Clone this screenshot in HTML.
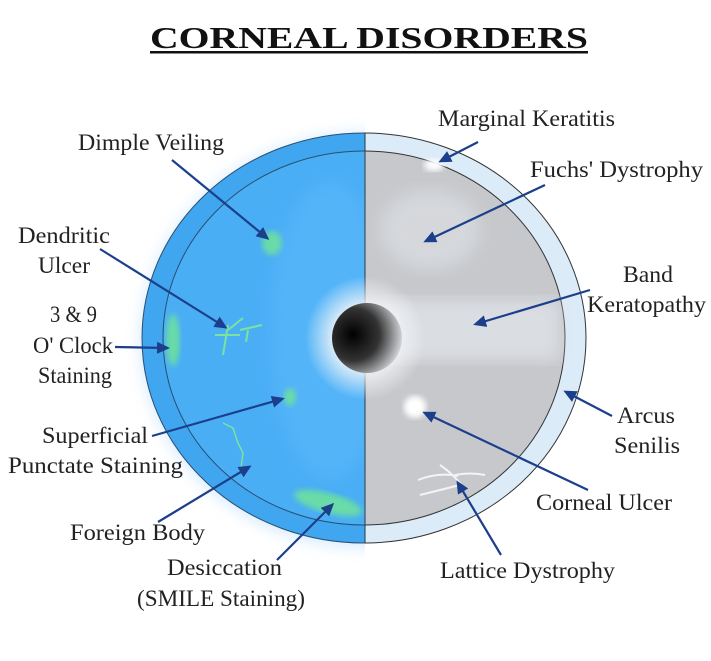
<!DOCTYPE html>
<html><head><meta charset="utf-8"><style>
html,body{margin:0;padding:0;background:#fff;}
svg{display:block;}
text{font-family:"Liberation Serif",serif;fill:#222;font-size:23px;}
</style></head><body>
<svg width="711" height="661" viewBox="0 0 711 661" xmlns="http://www.w3.org/2000/svg">
<defs>
<marker id="a" markerWidth="13" markerHeight="12" refX="10" refY="6" orient="auto" markerUnits="userSpaceOnUse">
<path d="M0,0 L13,6 L0,12 Z" fill="#1c3f8c"/></marker>
<radialGradient id="pup" cx="0.3" cy="0.45" r="0.75">
<stop offset="0" stop-color="#000"/><stop offset="0.5" stop-color="#333"/><stop offset="1" stop-color="#e8eaee"/></radialGradient>
<radialGradient id="cloud" cx="0.5" cy="0.5" r="0.5">
<stop offset="0.5" stop-color="#f4f6f8"/><stop offset="1" stop-color="#f4f6f8" stop-opacity="0"/></radialGradient>
<filter id="blur"><feGaussianBlur stdDeviation="3"/></filter>
<filter id="blur2"><feGaussianBlur stdDeviation="8"/></filter>
<clipPath id="L"><rect x="0" y="0" width="365" height="661"/></clipPath>
<clipPath id="R"><rect x="365" y="0" width="346" height="661"/></clipPath>
</defs>

<text x="150" y="48" font-weight="bold" textLength="438" lengthAdjust="spacingAndGlyphs" style="font-size:31px;fill:#111">CORNEAL DISORDERS</text>
<rect x="150" y="51" width="438" height="2.5" fill="#111"/>

<ellipse cx="364" cy="340" rx="222" ry="206" fill="#9fd0ff" filter="url(#blur2)" opacity="0.5" clip-path="url(#L)"/>
<g clip-path="url(#L)">
<ellipse cx="364" cy="338" rx="222" ry="205" fill="#3fa6ef" stroke="#2a4f70" stroke-width="1"/>
<ellipse cx="364" cy="338" rx="201" ry="187" fill="#4aaef5" stroke="#2a4f70" stroke-width="1"/>
<ellipse cx="330" cy="330" rx="60" ry="150" fill="#5ab8fa" filter="url(#blur2)" opacity="0.6"/>
</g>
<g clip-path="url(#R)">
<ellipse cx="364" cy="338" rx="222" ry="205" fill="#dcebf8" stroke="#333" stroke-width="1"/>
<ellipse cx="364" cy="338" rx="201" ry="187" fill="#c6c8cc" stroke="#333" stroke-width="1"/>
<rect x="380" y="300" width="180" height="60" fill="#e0e3e8" filter="url(#blur2)" opacity="0.8"/>
<ellipse cx="430" cy="230" rx="50" ry="40" fill="#dfe2e6" filter="url(#blur2)" opacity="0.6"/>
<ellipse cx="434" cy="165" rx="10" ry="6" fill="#fff" filter="url(#blur)"/>
<ellipse cx="415" cy="407" rx="11" ry="11" fill="#fff" filter="url(#blur)"/>
<path d="M418,480 q20,-8 40,-4 M440,465 q15,10 25,25 M455,475 q15,-3 30,0 M420,495 q20,-5 40,-10" stroke="#f2f4f6" stroke-width="2" fill="none"/>
</g>
<line x1="365" y1="133" x2="365" y2="543" stroke="#2a3a4a" stroke-width="1"/>
<ellipse cx="365" cy="338" rx="60" ry="62" fill="url(#cloud)" opacity="0.9"/>
<circle cx="367" cy="338" r="35" fill="url(#pup)"/>

<g fill="#6fe39a" opacity="0.85">
<ellipse cx="272" cy="243" rx="10" ry="12" filter="url(#blur)"/>
<ellipse cx="173" cy="340" rx="7" ry="26" filter="url(#blur)"/>
<ellipse cx="328" cy="503" rx="35" ry="10" transform="rotate(15 328 503)" filter="url(#blur)"/>
<ellipse cx="290" cy="397" rx="6" ry="9" filter="url(#blur)"/>
</g>
<path d="M215,335 l25,0 M228,325 l-5,30 M228,330 l15,-12 M240,330 l22,-5 M248,330 l-2,12" stroke="#7be39e" stroke-width="2" fill="none"/>
<path d="M223,423 l10,5 l5,15 l5,10 l-2,15 l5,6" stroke="#7be39e" stroke-width="1.5" fill="none"/>

<g stroke="#1c3f8c" stroke-width="2.2" fill="none" marker-end="url(#a)">
<line x1="478" y1="142" x2="441" y2="161"/>
<line x1="172" y1="160" x2="267" y2="238"/>
<line x1="100" y1="249" x2="225" y2="327"/>
<line x1="545" y1="185" x2="426" y2="241"/>
<line x1="590" y1="290" x2="476" y2="324"/>
<line x1="115" y1="347" x2="167" y2="348"/>
<line x1="612" y1="416" x2="566" y2="392"/>
<line x1="152" y1="436" x2="282" y2="399"/>
<line x1="588" y1="490" x2="425" y2="413"/>
<line x1="158" y1="522" x2="249" y2="467"/>
<line x1="277" y1="560" x2="332" y2="505"/>
<line x1="501" y1="555" x2="458" y2="483"/>
</g>

<g lengthAdjust="spacingAndGlyphs">
<text x="438" y="126" textLength="177" lengthAdjust="spacingAndGlyphs">Marginal Keratitis</text>
<text x="78" y="150" textLength="146" lengthAdjust="spacingAndGlyphs">Dimple Veiling</text>
<text x="18" y="243" textLength="92" lengthAdjust="spacingAndGlyphs">Dendritic</text>
<text x="38" y="273" textLength="52" lengthAdjust="spacingAndGlyphs">Ulcer</text>
<text x="530" y="177" textLength="173" lengthAdjust="spacingAndGlyphs">Fuchs' Dystrophy</text>
<text x="623" y="282" textLength="50" lengthAdjust="spacingAndGlyphs">Band</text>
<text x="587" y="312" textLength="119" lengthAdjust="spacingAndGlyphs">Keratopathy</text>
<text x="50" y="322" textLength="47" lengthAdjust="spacingAndGlyphs">3 &amp; 9</text>
<text x="33" y="353" textLength="80" lengthAdjust="spacingAndGlyphs">O' Clock</text>
<text x="38" y="383" textLength="74" lengthAdjust="spacingAndGlyphs">Staining</text>
<text x="617" y="423" textLength="58" lengthAdjust="spacingAndGlyphs">Arcus</text>
<text x="614" y="453" textLength="66" lengthAdjust="spacingAndGlyphs">Senilis</text>
<text x="42" y="443" textLength="106" lengthAdjust="spacingAndGlyphs">Superficial</text>
<text x="8" y="473" textLength="175" lengthAdjust="spacingAndGlyphs">Punctate Staining</text>
<text x="536" y="510" textLength="136" lengthAdjust="spacingAndGlyphs">Corneal Ulcer</text>
<text x="70" y="540" textLength="135" lengthAdjust="spacingAndGlyphs">Foreign Body</text>
<text x="167" y="575" textLength="115" lengthAdjust="spacingAndGlyphs">Desiccation</text>
<text x="137" y="606" textLength="168" lengthAdjust="spacingAndGlyphs">(SMILE Staining)</text>
<text x="440" y="578" textLength="175" lengthAdjust="spacingAndGlyphs">Lattice Dystrophy</text>
</g>
</svg>
</body></html>
